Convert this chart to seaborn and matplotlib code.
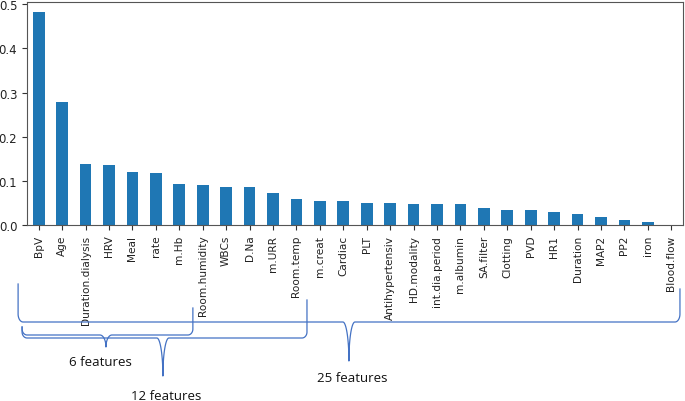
import numpy as np
import pandas as pd
import matplotlib
matplotlib.use("Agg")
import matplotlib.pyplot as plt
import seaborn as sns

features = ["BpV", "Age", "Duration.dialysis", "HRV", "Meal", "rate", "m.Hb",
            "Room.humidity", "WBCs", "D.Na", "m.URR", "Room.temp", "m.creat",
            "Cardiac", "PLT", "Antihypertensiv", "HD.modality", "int.dia.period",
            "m.albumin", "SA.filter", "Clotting", "PVD", "HR1", "Duration",
            "MAP2", "PP2", "iron", "Blood.flow"]
importance = [0.483, 0.279, 0.139, 0.137, 0.121, 0.117, 0.093,
              0.091, 0.087, 0.086, 0.072, 0.058, 0.054,
              0.054, 0.050, 0.050, 0.047, 0.047,
              0.047, 0.038, 0.035, 0.035, 0.029, 0.026,
              0.017, 0.012, 0.0075, 0.0]

# brace groups, positions in bar-index units
group_labels = ["25 features", "6 features", "12 features"]
group_left = [-0.88, -0.71, -0.71]
group_right = [27.37, 6.58, 11.45]
group_cusp = [13.24, 2.87, 5.3]

df = pd.DataFrame({"feature": features, "importance": importance})

W, H = 685, 402
fig = plt.figure(figsize=(W / 100, H / 100), dpi=100)
ax = fig.add_axes([27 / W, 1 - 226 / H, (683 - 27) / W, 223 / H])

sns.barplot(data=df, x="feature", y="importance", color="#1f77b4",
            saturation=1, width=0.5, ax=ax)
ax.set_xlim(-0.5, len(features) - 0.5)
ax.set_ylim(0, 0.505)
ax.set_yticks([0.0, 0.1, 0.2, 0.3, 0.4, 0.5])
ax.set_xlabel("")
ax.set_ylabel("")
ax.tick_params(axis="y", labelsize=8.5, colors="#333333", labelcolor="#222222")
ax.tick_params(axis="x", labelsize=7.6, colors="#333333", labelcolor="#222222")
for lbl in ax.get_xticklabels():
    lbl.set_rotation(90)
    lbl.set_family(["Liberation Sans Narrow", "DejaVu Sans"])
for s in ax.spines.values():
    s.set_color("#555555")

# overlay in image pixel coordinates for the braces
ov = fig.add_axes([0, 0, 1, 1])
ov.set_xlim(0, W)
ov.set_ylim(H, 0)
ov.axis("off")
ov.patch.set_alpha(0)


def px(i):
    return ax.transData.transform((i, 0))[0]


def brace(xl, xr, xc, y0, top_l, top_r, tip, r_end=(5, 6), w=6):
    t = np.linspace(0, np.pi / 2, 20)
    rx, ry = r_end
    d = tip - y0
    xs = [xl]
    ys = [top_l]
    # left corner
    xs += list(xl + rx - rx * np.cos(t))
    ys += list(y0 - ry + ry * np.sin(t))
    # cusp, left half
    xs += list(xc - w + w * np.sin(t))
    ys += list(y0 + d * (1 - np.cos(t)))
    # cusp, right half
    s = t[::-1]
    xs += list(xc + w - w * np.sin(s))
    ys += list(y0 + d * (1 - np.cos(s)))
    # right corner
    xs += list(xr - rx + rx * np.sin(t))
    ys += list(y0 - ry + ry * np.cos(t))
    xs += [xr]
    ys += [top_r]
    ov.plot(xs, ys, color="#4472c4", lw=0.9)


brace(px(group_left[0]), px(group_right[0]), px(group_cusp[0]), 323, 285, 290, 362, r_end=(5, 8))
brace(px(group_left[1]), px(group_right[1]), px(group_cusp[1]), 336, 328, 309, 348)
brace(px(group_left[2]), px(group_right[2]), px(group_cusp[2]), 339, 328, 301, 377)

text_pos = [(352, 379), (100, 363), (166, 397)]
for lab, (tx, ty) in zip(group_labels, text_pos):
    ov.text(tx, ty, lab, ha="center", va="center", fontsize=9.5,
            family=["Open Sans", "DejaVu Sans"], color="#111111")

fig.savefig("out.png", dpi=100)
